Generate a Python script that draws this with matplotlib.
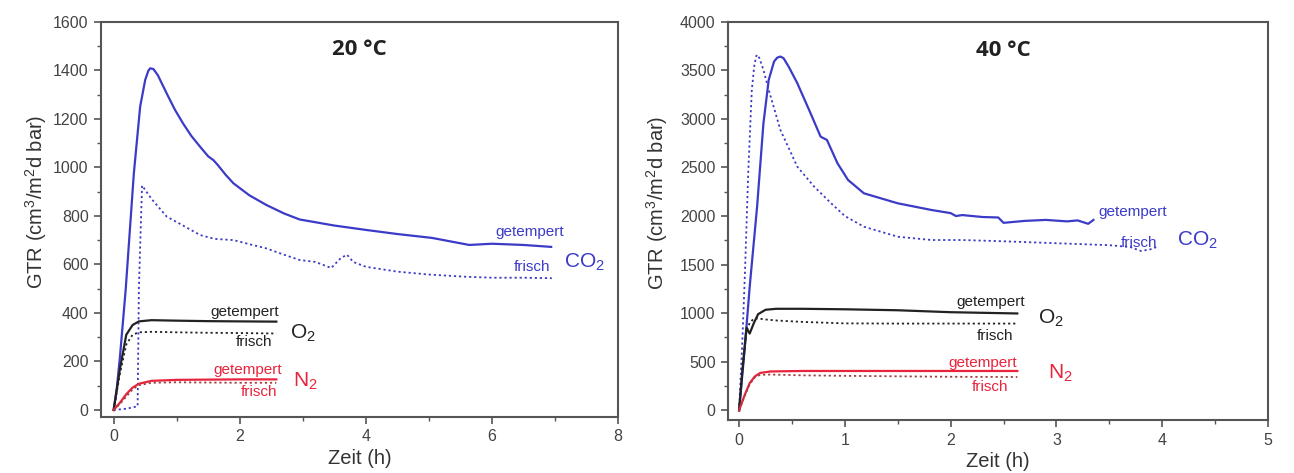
import matplotlib
matplotlib.use("Agg")
import matplotlib.pyplot as plt
from matplotlib.ticker import MultipleLocator

plt.rcParams['font.family'] = ['Liberation Sans', 'DejaVu Sans']
plt.rcParams['mathtext.default'] = 'regular'

# ---------------- 20 °C data ----------------
t20_co2_get = [0, 0.05, 0.1, 0.19, 0.32, 0.42, 0.5, 0.55, 0.58, 0.63, 0.7, 0.84, 0.97, 1.1, 1.23,
               1.37, 1.5, 1.58, 1.65, 1.78, 1.9, 2.15, 2.42, 2.7, 2.95, 3.5, 4.0, 4.5, 5.05,
               5.64, 6.0, 6.5, 6.94]
co2_get_20 = [0, 90, 220, 494, 975, 1250, 1360, 1398, 1408, 1405, 1380, 1305, 1238, 1181, 1130,
              1085, 1045, 1030, 1010, 968, 934, 885, 845, 810, 785, 760, 742, 725, 709,
              680, 685, 680, 672]

t20_co2_fr = [0, 0.2, 0.38, 0.40, 0.45, 0.6, 0.84, 1.1, 1.37, 1.6, 1.9, 2.2, 2.42, 2.7, 2.95,
              3.2, 3.45, 3.6, 3.7, 3.8, 4.0, 4.5, 5.0, 5.58, 6.0, 6.5, 6.95]
co2_fr_20 = [0, 5, 15, 500, 925, 870, 797, 760, 721, 705, 700, 680, 666, 640, 618,
             610, 585, 625, 640, 610, 590, 570, 558, 549, 545, 545, 543]

t20_small = [0, 0.1, 0.2, 0.3, 0.4, 0.6, 1.0, 1.5, 2.0, 2.58]
o2_get_20 = [0, 170, 310, 350, 365, 370, 368, 366, 365, 364]
o2_fr_20 = [0, 150, 270, 310, 320, 322, 320, 318, 317, 315]
n2_get_20 = [0, 30, 65, 92, 108, 120, 124, 125, 126, 126]
n2_fr_20 = [0, 25, 55, 85, 102, 112, 114, 113, 112, 112]

# ---------------- 40 °C data ----------------
t40_co2_get = [0, 0.05, 0.10, 0.17, 0.23, 0.28, 0.33, 0.36, 0.39, 0.42, 0.47, 0.55,
               0.675, 0.77, 0.8, 0.83, 0.93, 1.03, 1.18, 1.5, 1.82, 2.0,
               2.05, 2.11, 2.3, 2.45, 2.5, 2.7, 2.9, 3.1, 3.2, 3.3, 3.35]
co2_get_40 = [0, 600, 1271, 2096, 2955, 3402, 3590, 3630, 3642, 3625, 3535, 3368,
              3059, 2818, 2800, 2784, 2543, 2371, 2234, 2131, 2062, 2030,
              2000, 2010, 1990, 1985, 1930, 1950, 1960, 1945, 1955, 1920, 1960]

t40_co2_fr = [0, 0.03, 0.055, 0.086, 0.12, 0.145, 0.166, 0.19, 0.23, 0.28, 0.39, 0.55, 0.71,
              0.87, 1.0, 1.18, 1.5, 1.82, 2.11, 2.5, 3.0, 3.5, 3.7, 3.8, 3.9, 3.95]
co2_fr_40 = [0, 700, 1409, 2440, 3299, 3560, 3660, 3630, 3505, 3299, 2887, 2508, 2302,
             2131, 2000, 1890, 1787, 1753, 1753, 1740, 1720, 1700, 1680, 1640, 1660, 1683]

t40_o2 = [0, 0.03, 0.07, 0.1, 0.14, 0.18, 0.25, 0.35, 0.6, 1.0, 1.5, 2.0, 2.63]
o2_get_40 = [0, 400, 850, 790, 900, 990, 1035, 1045, 1045, 1040, 1030, 1010, 997]
o2_fr_40 = [0, 400, 820, 900, 945, 945, 935, 925, 910, 895, 893, 893, 893]

t40_n2 = [0, 0.05, 0.1, 0.15, 0.2, 0.3, 0.6, 1.0, 1.5, 2.0, 2.63]
n2_get_40 = [0, 150, 280, 350, 385, 400, 405, 405, 405, 405, 405]
n2_fr_40 = [0, 140, 270, 340, 365, 368, 360, 355, 350, 345, 343]

BLUE = '#3b3bc8'
BLACK = '#222222'
RED = '#e8243c'
DOT = (0, (1.2, 1.6))

fig = plt.figure(figsize=(12.94, 4.73), dpi=100)
ax1 = fig.add_axes([0.0781, 0.1184, 0.3995, 0.8357])
ax2 = fig.add_axes([0.5626, 0.1120, 0.4173, 0.8420])


def style(ax, ylab_x):
    for s in ax.spines.values():
        s.set_color('#555555')
        s.set_linewidth(1.5)
    ax.tick_params(which='both', direction='out', top=False, right=False,
                   colors='#555555', labelcolor='#444444', labelsize=11.5)
    ax.tick_params(which='major', length=5, width=1.2, pad=4)
    ax.tick_params(which='minor', length=3, width=1.0)
    ax.set_xlabel('Zeit (h)', fontsize=14.5, color='#333333', labelpad=3)
    ax.set_ylabel('GTR (cm$^3$/m$^2$d bar)', fontsize=14.5, color='#333333')
    ax.yaxis.set_label_coords(ylab_x, 0.545)


LBL = dict(fontsize=11, va='center')
GAS = dict(fontsize=15, va='center', ha='left')

# ---- left panel ----
ax1.plot(t20_co2_get, co2_get_20, color=BLUE, lw=1.6)
ax1.plot(t20_co2_fr, co2_fr_20, color=BLUE, lw=1.3, ls=DOT)
ax1.plot(t20_small, o2_get_20, color=BLACK, lw=1.6)
ax1.plot(t20_small, o2_fr_20, color=BLACK, lw=1.3, ls=DOT)
ax1.plot(t20_small, n2_get_20, color=RED, lw=1.6)
ax1.plot(t20_small, n2_fr_20, color='#a04040', lw=1.3, ls=DOT)
ax1.set_xlim(-0.2, 8)
ax1.set_ylim(-29, 1600)
ax1.xaxis.set_major_locator(MultipleLocator(2))
ax1.xaxis.set_minor_locator(MultipleLocator(1))
ax1.yaxis.set_major_locator(MultipleLocator(200))
ax1.yaxis.set_minor_locator(MultipleLocator(100))
style(ax1, -0.101)
ax1.text(0.5, 0.955, '20 °C', transform=ax1.transAxes, ha='center', va='top',
         fontsize=16, fontweight='bold', family='Open Sans', color='#222222')
ax1.text(2.63, 404, 'getempert', color=BLACK, ha='right', **LBL)
ax1.text(2.52, 280, 'frisch', color=BLACK, ha='right', **LBL)
ax1.text(2.79, 315, 'O$_2$', color=BLACK, **GAS)
ax1.text(2.67, 165, 'getempert', color=RED, ha='right', **LBL)
ax1.text(2.59, 74, 'frisch', color=RED, ha='right', **LBL)
ax1.text(2.84, 118, 'N$_2$', color=RED, **GAS)
ax1.text(7.14, 733, 'getempert', color=BLUE, ha='right', **LBL)
ax1.text(6.93, 589, 'frisch', color=BLUE, ha='right', **LBL)
ax1.text(7.14, 610, 'CO$_2$', color=BLUE, **GAS)

# ---- right panel ----
ax2.plot(t40_co2_get, co2_get_40, color=BLUE, lw=1.6)
ax2.plot(t40_co2_fr, co2_fr_40, color=BLUE, lw=1.3, ls=DOT)
ax2.plot(t40_o2, o2_get_40, color=BLACK, lw=1.6)
ax2.plot(t40_o2, o2_fr_40, color=BLACK, lw=1.3, ls=DOT)
ax2.plot(t40_n2, n2_get_40, color=RED, lw=1.6)
ax2.plot(t40_n2, n2_fr_40, color='#a04040', lw=1.3, ls=DOT)
ax2.set_xlim(-0.105, 5)
ax2.set_ylim(-100, 4000)
ax2.xaxis.set_major_locator(MultipleLocator(1))
ax2.xaxis.set_minor_locator(MultipleLocator(0.5))
ax2.yaxis.set_major_locator(MultipleLocator(500))
ax2.yaxis.set_minor_locator(MultipleLocator(250))
style(ax2, -0.107)
ax2.text(0.51, 0.955, '40 °C', transform=ax2.transAxes, ha='center', va='top',
         fontsize=16, fontweight='bold', family='Open Sans', color='#222222')
ax2.text(2.70, 1113, 'getempert', color=BLACK, ha='right', **LBL)
ax2.text(2.59, 763, 'frisch', color=BLACK, ha='right', **LBL)
ax2.text(2.83, 950, 'O$_2$', color=BLACK, **GAS)
ax2.text(2.63, 485, 'getempert', color=RED, ha='right', **LBL)
ax2.text(2.54, 237, 'frisch', color=RED, ha='right', **LBL)
ax2.text(2.92, 380, 'N$_2$', color=RED, **GAS)
ax2.text(3.40, 2041, 'getempert', color=BLUE, ha='left', **LBL)
ax2.text(3.95, 1722, 'frisch', color=BLUE, ha='right', **LBL)
ax2.text(4.14, 1750, 'CO$_2$', color=BLUE, **GAS)

fig.savefig('out.png', dpi=100)
